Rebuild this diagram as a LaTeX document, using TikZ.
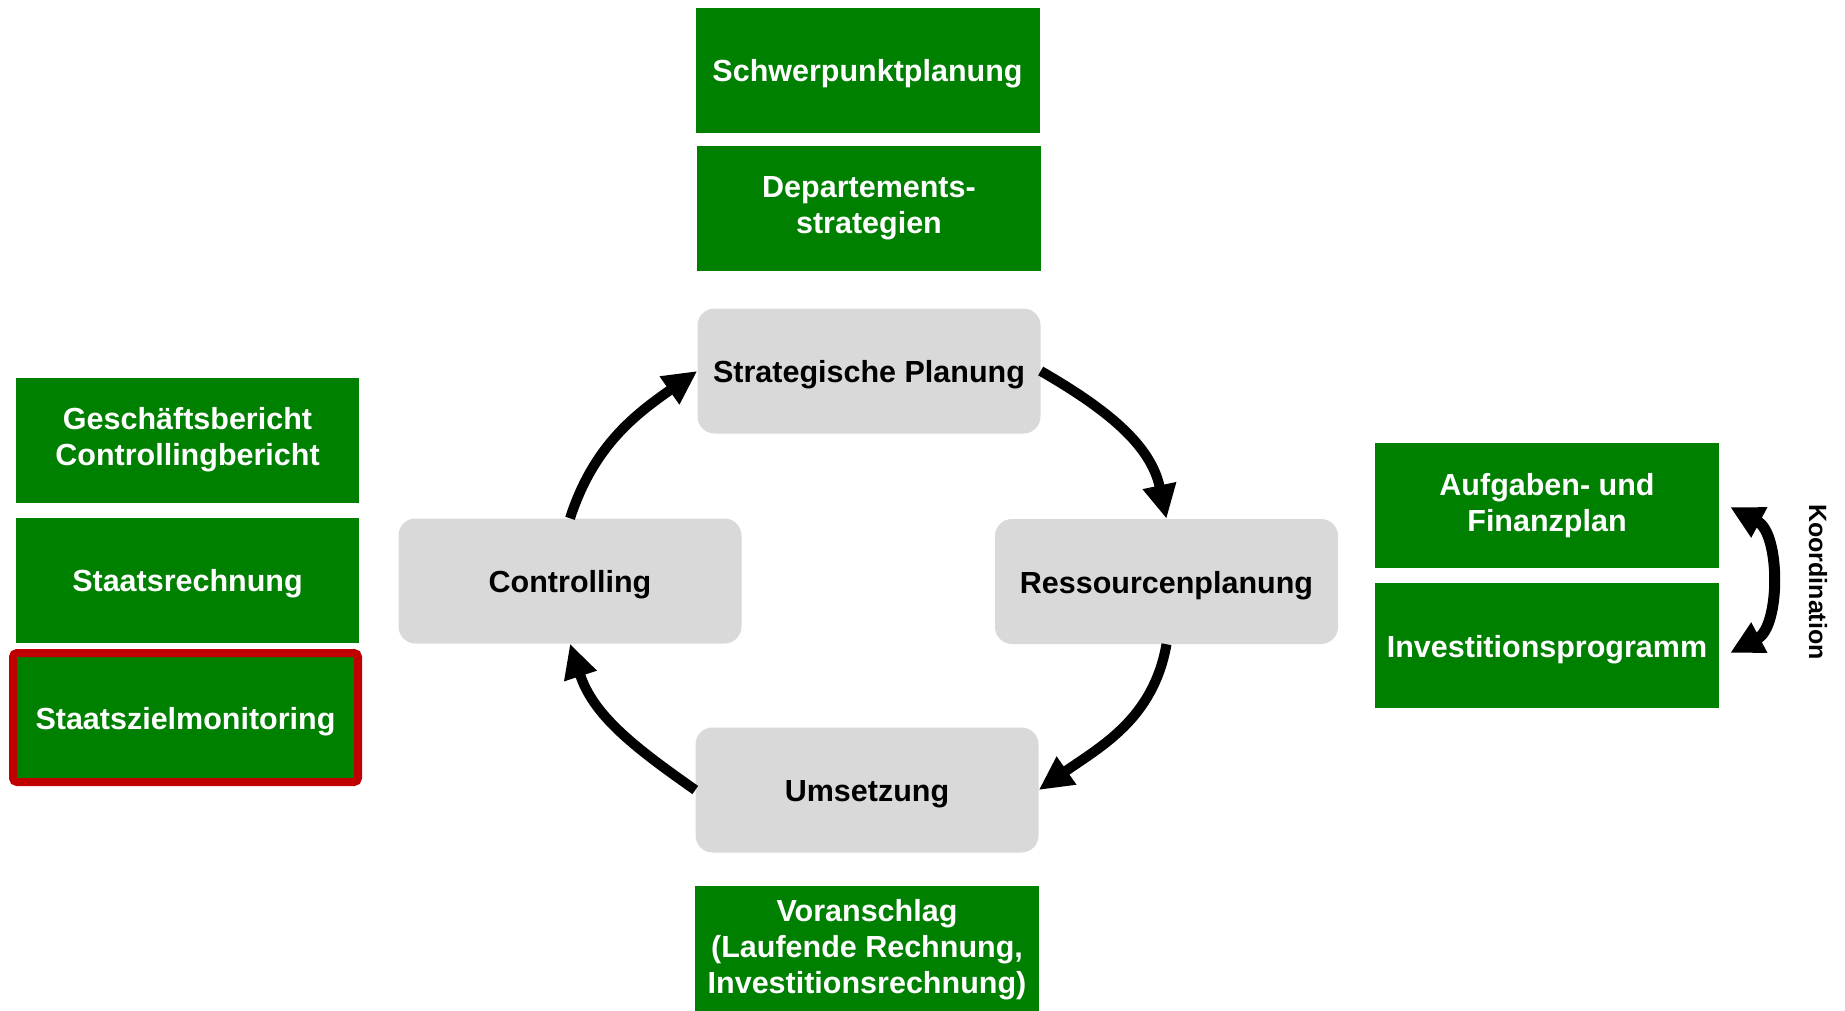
\documentclass[tikz,border=0pt]{standalone}
\usepackage{fontspec}
\setmainfont{Liberation Sans}
\usetikzlibrary{arrows.meta}
\definecolor{boxgreen}{RGB}{0,128,0}
\definecolor{boxgrey}{RGB}{217,217,217}
\definecolor{boxred}{RGB}{192,0,0}
\begin{document}
\begin{tikzpicture}[x=1pt,y=1pt,
  gbox/.style={fill=boxgreen, draw=none, text=white, inner sep=0pt, align=center,
    minimum width=344pt, minimum height=125pt,
    execute at begin node={\rule{0pt}{29.5pt}},
    font=\fontsize{30.5}{36}\selectfont\bfseries},
  pbox/.style={fill=boxgrey, draw=none, text=black, inner sep=0pt, align=center,
    rounded corners=17pt, minimum width=343pt, minimum height=125pt,
    execute at begin node={\rule{0pt}{29.5pt}},
    font=\fontsize{30.5}{36}\selectfont\bfseries},
  cyc/.style={line width=10pt, -{Triangle[length=34pt,width=32pt]}},
  kord/.style={line width=11pt, {Triangle[length=33pt,width=32pt]}-{Triangle[length=33pt,width=32pt]}}
]
\useasboundingbox (0,-1010) rectangle (1845,0);
% top green boxes
\node[gbox] (sp) at (867.5,-70) {Schwerpunktplanung};
\node[gbox] (dp) at (869,-208.5) {Departements-\\strategien};
% process boxes
\node[pbox] (st) at (869,-371) {Strategische Planung};
\node[pbox] (co) at (570,-581) {Controlling};
\node[pbox] (rp) at (1166.5,-581.5) {Ressourcenplanung};
\node[pbox] (um) at (867,-790) {Umsetzung};
% bottom
\node[gbox, minimum height=128pt] (va) at (867,-950) {Voranschlag\\(Laufende Rechnung,\\Investitionsrechnung)};
% left
\node[gbox, minimum width=343pt] (gb) at (187.5,-440) {Geschäftsbericht\\Controllingbericht};
\node[gbox, minimum width=343pt] (sr) at (187.5,-580) {Staatsrechnung};
\node[gbox, draw=boxred, line width=8pt, rounded corners=4pt, minimum width=345pt, minimum height=129pt] (sz) at (185.5,-717.5) {Staatszielmonitoring};
% right
\node[gbox] (ap) at (1547,-505.5) {Aufgaben- und\\Finanzplan};
\node[gbox] (ip) at (1547,-645.5) {Investitionsprogramm};
% cycle arrows
\draw[cyc] (st.east) to[out=-30, in=102] (rp.north);
\draw[cyc] (rp.south) to[out=-100, in=35] (um.east);
\draw[cyc] (um.west) to[out=145, in=-72] (co.south);
\draw[cyc] (co.north) to[out=72, in=-145] (st.west);
% coordination
\coordinate (k1) at ([xshift=11pt,yshift=-1.5pt]ap.east);
\coordinate (k2) at ([xshift=11pt,yshift=-7.5pt]ip.east);
\draw[kord] (k1) to[bend left=62] (k2);
\node[rotate=-90, inner sep=0pt, font=\fontsize{25}{30}\selectfont\bfseries] (ko) at (1818,-582) {Koordination};
\end{tikzpicture}
\end{document}
